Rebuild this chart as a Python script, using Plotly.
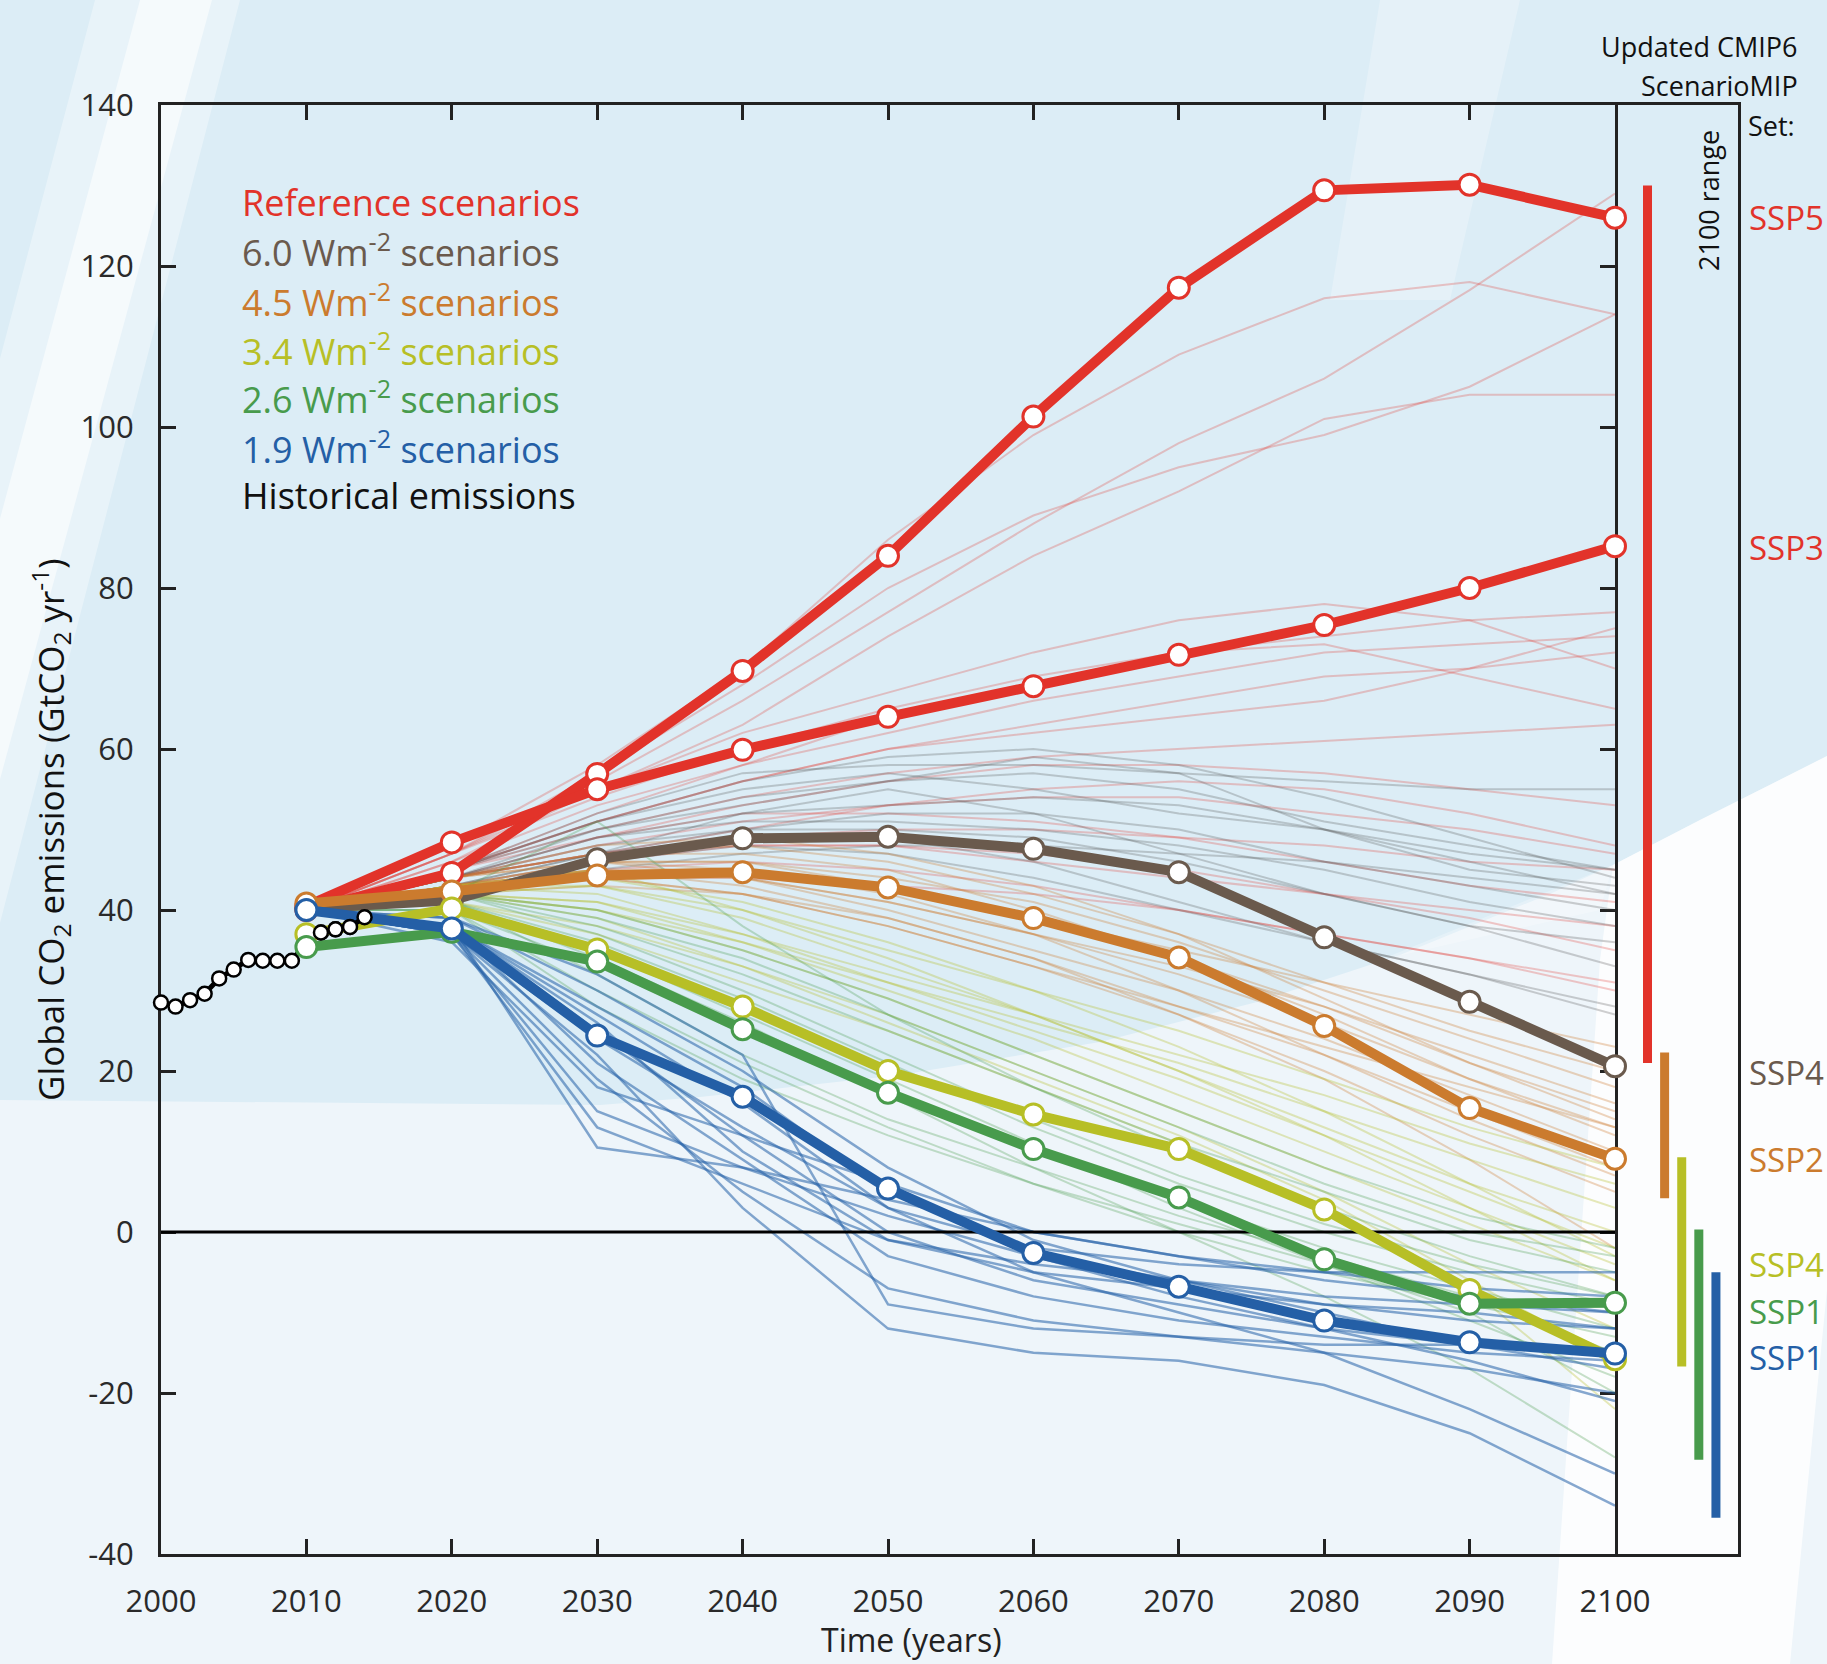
import plotly.graph_objects as go

# ---------------- data ----------------
decades = [2010, 2020, 2030, 2040, 2050, 2060, 2070, 2080, 2090, 2100]
hist_years = list(range(2000, 2015))
hist_values = [28.5, 28.0, 28.8, 29.6, 31.5, 32.6, 33.8, 33.7, 33.7, 33.7, 36.0, 37.2, 37.6, 37.9, 39.1]

ssp585 = [40.0, 44.6, 56.9, 69.7, 84.0, 101.3, 117.3, 129.4, 130.1, 126.0]
ssp370 = [40.5, 48.4, 55.0, 59.9, 64.0, 67.8, 71.7, 75.4, 80.0, 85.2]
ssp460 = [40.2, 41.2, 46.3, 48.9, 49.1, 47.6, 44.7, 36.6, 28.6, 20.6]
ssp245 = [40.8, 42.3, 44.3, 44.7, 42.8, 39.0, 34.1, 25.6, 15.4, 9.1]
ssp434 = [37.0, 40.2, 35.1, 28.0, 20.0, 14.6, 10.3, 2.8, -7.2, -15.8]
ssp126 = [35.4, 37.3, 33.6, 25.2, 17.3, 10.3, 4.3, -3.4, -8.9, -8.8]
ssp119 = [40.0, 37.7, 24.4, 16.8, 5.4, -2.6, -6.8, -11.0, -13.7, -15.1]

red_thin = [
    [40, 47, 56, 66, 77, 88, 98, 106, 117, 129],
    [40, 48, 58, 70, 86, 99, 109, 116, 118, 114],
    [40, 46, 55, 63, 74, 84, 92, 101, 104, 104],
    [40, 47, 57, 68, 80, 89, 95, 99, 105, 114],
    [40, 47, 54, 60, 65, 69, 72, 74, 76, 77],
    [40, 46, 53, 58, 62, 66, 69, 72, 73, 74],
    [40, 45, 51, 56, 60, 63, 66, 69, 70, 72],
    [40, 45, 52, 58, 64, 68, 72, 73, 69, 65],
    [40, 47, 55, 62, 67, 72, 76, 78, 76, 70],
    [40, 45, 51, 56, 60, 62, 64, 66, 70, 75],
    [40, 44, 49, 53, 56, 58, 58, 57, 55, 53],
    [40, 44, 47, 49, 50, 50, 49, 48, 46, 45],
    [40, 43, 46, 48, 48, 47, 45, 42, 39, 35],
    [40, 43, 45, 46, 45, 43, 40, 37, 34, 30],
    [40, 44, 47, 48, 48, 46, 44, 42, 40, 38],
    [40, 42, 44, 44, 43, 42, 40, 37, 34, 31],
    [40, 45, 50, 54, 57, 59, 60, 61, 62, 63],
    [40, 44, 48, 51, 53, 54, 54, 52, 50, 47],
    [40, 45, 49, 52, 52, 51, 49, 46, 43, 41],
    [40, 44, 47, 50, 53, 55, 56, 55, 52, 48],
]
gray_thin = [
    [40, 45, 52, 57, 58, 58, 57, 56, 55, 55],
    [40, 44, 50, 54, 56, 57, 55, 51, 48, 45],
    [40, 45, 51, 55, 57, 55, 52, 50, 47, 45],
    [40, 44, 49, 52, 53, 54, 53, 50, 46, 42],
    [40, 43, 47, 50, 52, 52, 50, 46, 43, 40],
    [40, 44, 48, 50, 50, 49, 46, 42, 38, 36],
    [40, 43, 47, 52, 55, 52, 47, 42, 38, 33],
    [40, 44, 47, 49, 49, 46, 41, 36, 32, 28],
    [40, 43, 46, 48, 47, 44, 40, 36, 32, 27],
    [40, 45, 50, 53, 56, 59, 57, 50, 45, 43],
    [40, 42, 45, 47, 48, 48, 47, 46, 44, 42],
    [40, 44, 49, 51, 51, 50, 48, 45, 41, 38],
    [40, 45, 51, 56, 59, 60, 58, 54, 49, 44],
]
orange_thin = [
    [40, 44, 47, 48, 46, 42, 37, 31, 25, 20],
    [40, 43, 46, 46, 44, 41, 36, 30, 24, 18],
    [40, 43, 45, 45, 43, 39, 34, 28, 21, 15],
    [40, 44, 47, 47, 45, 40, 34, 27, 19, 12],
    [40, 42, 44, 44, 41, 37, 32, 26, 19, 13],
    [40, 43, 46, 44, 40, 35, 30, 24, 17, 10],
    [40, 44, 46, 45, 42, 37, 30, 22, 14, 7],
    [40, 42, 43, 42, 39, 34, 28, 22, 15, 8],
    [40, 43, 45, 44, 41, 37, 33, 28, 22, 16],
    [40, 44, 48, 49, 47, 43, 37, 29, 21, 14],
    [40, 42, 44, 42, 38, 33, 27, 20, 12, 5],
    [40, 43, 44, 42, 38, 33, 28, 23, 18, 13],
    [40, 43, 45, 43, 39, 34, 27, 19, 9, -2],
    [40, 44, 46, 46, 43, 39, 35, 31, 27, 23],
]
yellow_thin = [
    [40, 42, 41, 37, 32, 27, 22, 17, 11, 6],
    [40, 43, 42, 37, 31, 25, 19, 12, 5, -2],
    [40, 42, 40, 35, 29, 22, 15, 8, 1, -6],
    [40, 43, 44, 41, 36, 30, 23, 15, 6, -3],
    [40, 41, 38, 33, 27, 20, 13, 5, -4, -12],
    [40, 42, 41, 36, 30, 24, 17, 10, 3, -4],
    [40, 43, 43, 39, 33, 27, 20, 12, 3, -6],
    [40, 42, 39, 33, 26, 19, 12, 4, -6, -16],
    [40, 42, 40, 36, 31, 26, 21, 15, 9, 3],
    [40, 41, 37, 31, 25, 18, 11, 3, -7, -22],
    [40, 43, 45, 40, 34, 27, 20, 13, 6, 0],
    [40, 42, 43, 40, 35, 30, 25, 19, 13, 8],
]
green_thin = [
    [40, 42, 38, 32, 25, 18, 11, 5, -1, -5],
    [40, 41, 36, 29, 21, 13, 6, 0, -5, -9],
    [40, 42, 51, 38, 27, 18, 10, 3, -3, -8],
    [40, 40, 33, 25, 17, 10, 4, -2, -7, -12],
    [40, 41, 35, 27, 19, 11, 3, -4, -11, -18],
    [40, 42, 37, 30, 22, 14, 7, 1, -4, -8],
    [40, 40, 30, 21, 13, 6, 0, -5, -9, -13],
    [40, 41, 34, 26, 17, 8, 0, -8, -17, -28],
    [40, 42, 39, 34, 27, 20, 13, 6, 0, -3],
    [40, 41, 32, 22, 14, 8, 2, -3, -8, -15],
    [40, 40, 28, 19, 12, 6, 1, -4, -10, -20],
    [40, 42, 40, 35, 29, 22, 15, 8, 2, -2],
]
blue_thin = [
    [40, 38, 10.5, 8, 4, 0, -3, -6, -8, -10],
    [40, 37, 19, 5, -7, -11, -13, -15, -17, -20],
    [40, 37, 22, 3, -12, -15, -16, -19, -25, -34],
    [40, 38, 27, 16, 3, -5, -10, -15, -22, -30],
    [40, 39, 30, 20, 8, -1, -6, -10, -14, -17],
    [40, 38, 25, 12, 0, -6, -9, -12, -14, -15],
    [40, 37, 15, 8, 2, -3, -6, -8, -9, -10],
    [40, 36, 18, 12, 6, 0, -3, -5, -7, -8],
    [40, 38, 28, 18, 5, -3, -8, -12, -16, -21],
    [40, 39, 32, 22, -9, -12, -13, -14, -14, -15],
    [40, 37, 13, 6, -1, -4, -6, -9, -10, -12],
    [40, 38, 21, 9, -3, -8, -11, -13, -15, -16],
    [40, 38, 26, 10, -1, -5, -7, -9, -11, -12],
    [40, 37, 24, 13, 3, -2, -4, -5, -5, -5],
]

range_names = ["SSP5/SSP3", "SSP2", "SSP4-3.4", "SSP1-2.6", "SSP1-1.9"]
range_low = [21.0, 4.2, -16.7, -28.3, -35.5]
range_high = [130.0, 22.3, 9.3, 0.3, -5.0]

legend_labels = ["Reference scenarios", "6.0 Wm<sup>-2</sup> scenarios", "4.5 Wm<sup>-2</sup> scenarios",
                 "3.4 Wm<sup>-2</sup> scenarios", "2.6 Wm<sup>-2</sup> scenarios", "1.9 Wm<sup>-2</sup> scenarios",
                 "Historical emissions"]
ssp_labels = ["SSP5", "SSP3", "SSP4", "SSP2", "SSP4", "SSP1", "SSP1"]
ssp_label_y = [126, 85, 19.8, 9.0, -4.0, -9.9, -15.6]

x_ticks = list(range(2000, 2101, 10))
y_ticks = list(range(-40, 141, 20))
y_tick_text = [str(v) for v in y_ticks]

# ---------------- style ----------------
RED = "#e2332a"; GRAY = "#6a5a4d"; ORANGE = "#cb7b2e"; YELLOW = "#b7bf26"; GREEN = "#489b4c"; BLUE = "#245fa6"
FONT = "Open Sans"
W, H = 1827, 1664
L, T = 161, 105
R = W - 1738
B = H - 1554
PW, PH = W - L - R, H - T - B
split = (1615 - L) / PW


def pp(x, y):
    """page pixel -> paper coords"""
    return (x - L) / PW, 1 - (y - T) / PH


def path(points):
    s = ""
    for i, (x, y) in enumerate(points):
        a, b = pp(x, y)
        s += ("M" if i == 0 else "L") + f"{a:.5f},{b:.5f} "
    return s + "Z"


fig = go.Figure()

# thin spaghetti
for group, col, wd in [(red_thin, "rgba(226,60,50,0.27)", 2), (gray_thin, "rgba(80,80,80,0.27)", 2),
                       (orange_thin, "rgba(205,125,50,0.32)", 2), (yellow_thin, "rgba(181,190,40,0.32)", 2),
                       (green_thin, "rgba(72,155,75,0.30)", 2), (blue_thin, "rgba(36,96,167,0.55)", 2.5)]:
    for vals in group:
        fig.add_trace(go.Scatter(x=decades, y=vals, mode="lines", line=dict(color=col, width=wd),
                                 hoverinfo="skip", showlegend=False))

# zero line
fig.add_trace(go.Scatter(x=[x_ticks[0], x_ticks[-1]], y=[0, 0], mode="lines",
                         line=dict(color="black", width=3), showlegend=False, hoverinfo="skip"))

# historical (under part)
fig.add_trace(go.Scatter(x=hist_years, y=hist_values, mode="lines+markers", cliponaxis=False,
                         line=dict(color="black", width=5),
                         marker=dict(size=14, color="white", line=dict(color="black", width=2.5)),
                         showlegend=False))

# thick scenario lines
for vals, col in [(ssp585, RED), (ssp370, RED), (ssp460, GRAY), (ssp245, ORANGE),
                  (ssp434, YELLOW), (ssp126, GREEN), (ssp119, BLUE)]:
    fig.add_trace(go.Scatter(x=decades, y=vals, mode="lines+markers", cliponaxis=False,
                             line=dict(color=col, width=10),
                             marker=dict(size=21, color="white", line=dict(color=col, width=3)),
                             showlegend=False))

# historical (top part, after 2010)
fig.add_trace(go.Scatter(x=hist_years[11:], y=hist_values[11:], mode="lines+markers", cliponaxis=False,
                         line=dict(color="black", width=5),
                         marker=dict(size=14, color="white", line=dict(color="black", width=2.5)),
                         showlegend=False))

# 2100 range bars
for name, lo, hi, col in zip(range_names, range_low, range_high, [RED, ORANGE, YELLOW, GREEN, BLUE]):
    fig.add_trace(go.Scatter(x=[name, name], y=[lo, hi], mode="lines", xaxis="x2", yaxis="y2",
                             line=dict(color=col, width=9), showlegend=False, hoverinfo="skip"))

# ---------------- background shapes ----------------
shapes = []
shapes.append(dict(type="path", xref="paper", yref="paper", layer="below", line=dict(width=0),
                   fillcolor="#dcedf6",
                   path=path([(0, 0), (1827, 0), (1827, 756), (1700, 820), (1613, 865), (1552, 893),
                              (1400, 955), (1257, 1002), (1100, 1042), (900, 1075), (700, 1097),
                              (600, 1105), (0, 1100)])))
shapes.append(dict(type="path", xref="paper", yref="paper", layer="below", line=dict(width=0),
                   fillcolor="rgba(255,255,255,0.35)",
                   path=path([(95, 0), (240, 0), (-20, 1000), (-170, 1000)])))
shapes.append(dict(type="path", xref="paper", yref="paper", layer="below", line=dict(width=0),
                   fillcolor="rgba(255,255,255,0.55)",
                   path=path([(140, 0), (212, 0), (-60, 1000), (-130, 1000)])))
shapes.append(dict(type="path", xref="paper", yref="paper", layer="below", line=dict(width=0),
                   fillcolor="rgba(255,255,255,0.8)",
                   path=path([(1552, 1664), (1790, 1664), (1827, 1290), (1827, 756), (1700, 820),
                              (1613, 865), (1600, 960)])))
shapes.append(dict(type="path", xref="paper", yref="paper", layer="below", line=dict(width=0),
                   fillcolor="rgba(255,255,255,0.25)",
                   path=path([(1380, 960), (1613, 865), (1600, 910)])))
shapes.append(dict(type="path", xref="paper", yref="paper", layer="below", line=dict(width=0),
                   fillcolor="rgba(255,255,255,0.25)",
                   path=path([(1380, 0), (1520, 0), (1450, 300), (1330, 300)])))

# ---------------- annotations ----------------
ann = []
leg_cols = [RED, GRAY, ORANGE, YELLOW, GREEN, BLUE, "#111111"]
for i, (txt, col) in enumerate(zip(legend_labels, leg_cols)):
    ax_, ay_ = pp(240, 202 + 49 * i)
    ann.append(dict(text=txt, x=ax_, y=ay_, xref="paper", yref="paper", xanchor="left", yanchor="middle",
                    showarrow=False, font=dict(family=FONT, size=36, color=col)))
ssp_cols = [RED, RED, GRAY, ORANGE, YELLOW, GREEN, BLUE]
for txt, yv, col in zip(ssp_labels, ssp_label_y, ssp_cols):
    ax_, _ = pp(1747, 0)
    ann.append(dict(text=txt, x=ax_, y=yv, xref="paper", yref="y", xanchor="left", yanchor="middle",
                    showarrow=False, font=dict(family=FONT, size=33, color=col)))
for txt, xp, yp, anch in [("Updated CMIP6", 1800, 47, "right"), ("ScenarioMIP", 1800, 85, "right"),
                          ("Set:", 1746, 125, "left")]:
    ax_, ay_ = pp(xp, yp)
    ann.append(dict(text=txt, x=ax_, y=ay_, xref="paper", yref="paper", xanchor=anch, yanchor="middle",
                    showarrow=False, font=dict(family=FONT, size=27, color="#111111")))
ax_, ay_ = pp(1709, 201)
ann.append(dict(text="2100 range", x=ax_, y=ay_, xref="paper", yref="paper", textangle=-90,
                xanchor="center", yanchor="middle", showarrow=False,
                font=dict(family=FONT, size=27, color="#111111")))
ax_, ay_ = pp(911, 1663)
ann.append(dict(text="Time (years)", x=ax_, y=ay_, xref="paper", yref="paper", xanchor="center",
                yanchor="bottom", showarrow=False, font=dict(family=FONT, size=32, color="#222222")))
ax_, ay_ = pp(50, 830)
ann.append(dict(text="Global CO<sub>2</sub> emissions (GtCO<sub>2</sub> yr<sup>-1</sup>)", x=ax_, y=ay_,
                xref="paper", yref="paper", textangle=-90, xanchor="center", yanchor="middle",
                showarrow=False, font=dict(family=FONT, size=35, color="#111111")))

axis_common = dict(showgrid=False, zeroline=False, layer="below traces")
fig.update_layout(
    width=W, height=H, margin=dict(l=L, r=R, t=T, b=B),
    paper_bgcolor="#eef5fa", plot_bgcolor="rgba(0,0,0,0)",
    font=dict(family=FONT, color="#2a2a2a"),
    shapes=shapes, annotations=ann, showlegend=False,
    xaxis=dict(domain=[0, split], range=[x_ticks[0], x_ticks[-1]], tickvals=x_ticks,
               showline=True, linecolor="#222222", linewidth=3, mirror="ticks",
               ticks="inside", ticklen=15, tickwidth=2.5, tickcolor="#222222",
               tickfont=dict(family=FONT, size=31, color="#2a2a2a"), ticklabelstandoff=18, **axis_common),
    yaxis=dict(domain=[0, 1], range=[y_ticks[0], y_ticks[-1]], tickvals=y_ticks, ticktext=y_tick_text,
               showline=True, linecolor="#222222", linewidth=3, mirror="ticks",
               ticks="inside", ticklen=15, tickwidth=2.5, tickcolor="#222222",
               tickfont=dict(family=FONT, size=31, color="#2a2a2a"), ticklabelstandoff=18, **axis_common),
    xaxis2=dict(domain=[split, 1], anchor="y2", type="category", categoryorder="array",
                categoryarray=range_names, range=[-1.9, 5.29], showline=True, linecolor="#222222",
                linewidth=3, mirror=True, ticks="", showticklabels=False, **axis_common),
    yaxis2=dict(domain=[0, 1], anchor="x2", matches="y", side="right", showline=True,
                linecolor="#222222", linewidth=3, ticks="", showticklabels=False, **axis_common),
)

fig.write_html("out.html", config={"displayModeBar": False},
               post_script="document.body.style.margin='0px';document.body.style.overflow='hidden';")
